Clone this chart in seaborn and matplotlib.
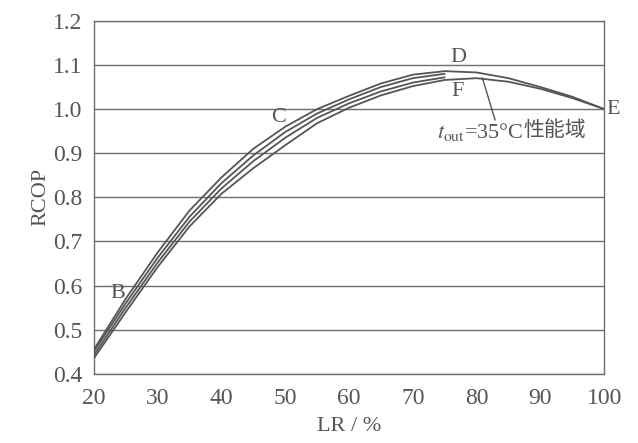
import matplotlib
matplotlib.use("Agg")
import matplotlib.pyplot as plt
import seaborn as sns
import pandas as pd

# load ratio (%) and relative COP
lr_full = [20, 25, 30, 35, 40, 45, 50, 55, 60, 65, 70, 75, 80, 85, 90, 95, 100]
lr_short = [20, 25, 30, 35, 40, 45, 50, 55, 60, 65, 70, 75]

rcop_upper = [0.455, 0.570, 0.675, 0.770, 0.845, 0.910, 0.960, 1.000, 1.030,
              1.058, 1.078, 1.086, 1.083, 1.070, 1.050, 1.028, 1.000]
rcop_mid1 = [0.450, 0.560, 0.663, 0.756, 0.832, 0.895, 0.948, 0.990, 1.022,
             1.050, 1.070, 1.080]
rcop_mid2 = [0.442, 0.550, 0.652, 0.745, 0.820, 0.882, 0.935, 0.980, 1.013,
             1.040, 1.060, 1.072]
rcop_lower = [0.435, 0.540, 0.642, 0.734, 0.808, 0.866, 0.918, 0.968, 1.003,
              1.031, 1.052, 1.066, 1.070, 1.062, 1.046, 1.025, 1.000]

point_labels = ["B", "C", "D", "E", "F"]
point_x = [23.8, 48.9, 77.1, 101.4, 77.0]
point_y = [0.583, 0.982, 1.116, 0.999, 1.039]

x_ticks = [20, 30, 40, 50, 60, 70, 80, 90, 100]
y_ticks = [0.4, 0.5, 0.6, 0.7, 0.8, 0.9, 1.0, 1.1, 1.2]

frames = []
for name, xs, ys in [("upper", lr_full, rcop_upper), ("mid1", lr_short, rcop_mid1),
                     ("mid2", lr_short, rcop_mid2), ("lower", lr_full, rcop_lower)]:
    frames.append(pd.DataFrame({"LR": xs, "RCOP": ys, "curve": name}))
data = pd.concat(frames, ignore_index=True)

sns.set_style("white")
plt.rcParams["font.family"] = ["Liberation Serif", "Noto Sans CJK SC"]
plt.rcParams["mathtext.fontset"] = "stix"

ink = "#555555"
fig = plt.figure(figsize=(6.38, 4.43), dpi=100)
ax = fig.add_axes([0.147, 0.156, 0.800, 0.797])

for y in y_ticks:
    ax.axhline(y, color="#6e6e6e", lw=1.0, zorder=1)

sns.lineplot(data=data, x="LR", y="RCOP", hue="curve", estimator=None,
             palette=[ink] * 4, linewidth=1.3, legend=False, ax=ax, zorder=3)

for lab, x, y in zip(point_labels, point_x, point_y):
    ax.text(x, y, lab, fontsize=16, color=ink, ha="center", va="center",
            clip_on=False)

# leader line and label (math part and Chinese part drawn as two texts)
ax.annotate("", xy=(80.9, 1.071), xytext=(82.9, 0.975),
            arrowprops=dict(arrowstyle="-", color=ink, lw=1.0,
                            shrinkA=0, shrinkB=0))
t1 = ax.text(73.8, 0.948, r"$t_{\rm out}$=35°C", fontsize=16, color=ink,
             ha="left", va="center")
ax.annotate("性能域", xy=(1.0, 0.58), xycoords=t1, fontsize=15, color=ink,
            ha="left", va="center", family=["Noto Sans CJK SC"])

ax.set_xlim(20, 100)
ax.set_ylim(0.4, 1.2)
ax.set_xticks(x_ticks)
ax.set_yticks(y_ticks)
ax.set_yticklabels([f"{v:.1f}" for v in y_ticks])
ax.tick_params(axis="x", direction="in", length=4, color=ink, labelsize=17,
               labelcolor=ink, pad=10)
ax.tick_params(axis="y", length=0, labelsize=17, labelcolor=ink, pad=8)
for s in ax.spines.values():
    s.set_color("#6e6e6e")
    s.set_linewidth(1.0)

ax.set_xlabel("LR / %", fontsize=16, color=ink, labelpad=6)
ax.set_ylabel("RCOP", fontsize=16, color=ink, labelpad=2)

fig.savefig("out.png", dpi=100)
